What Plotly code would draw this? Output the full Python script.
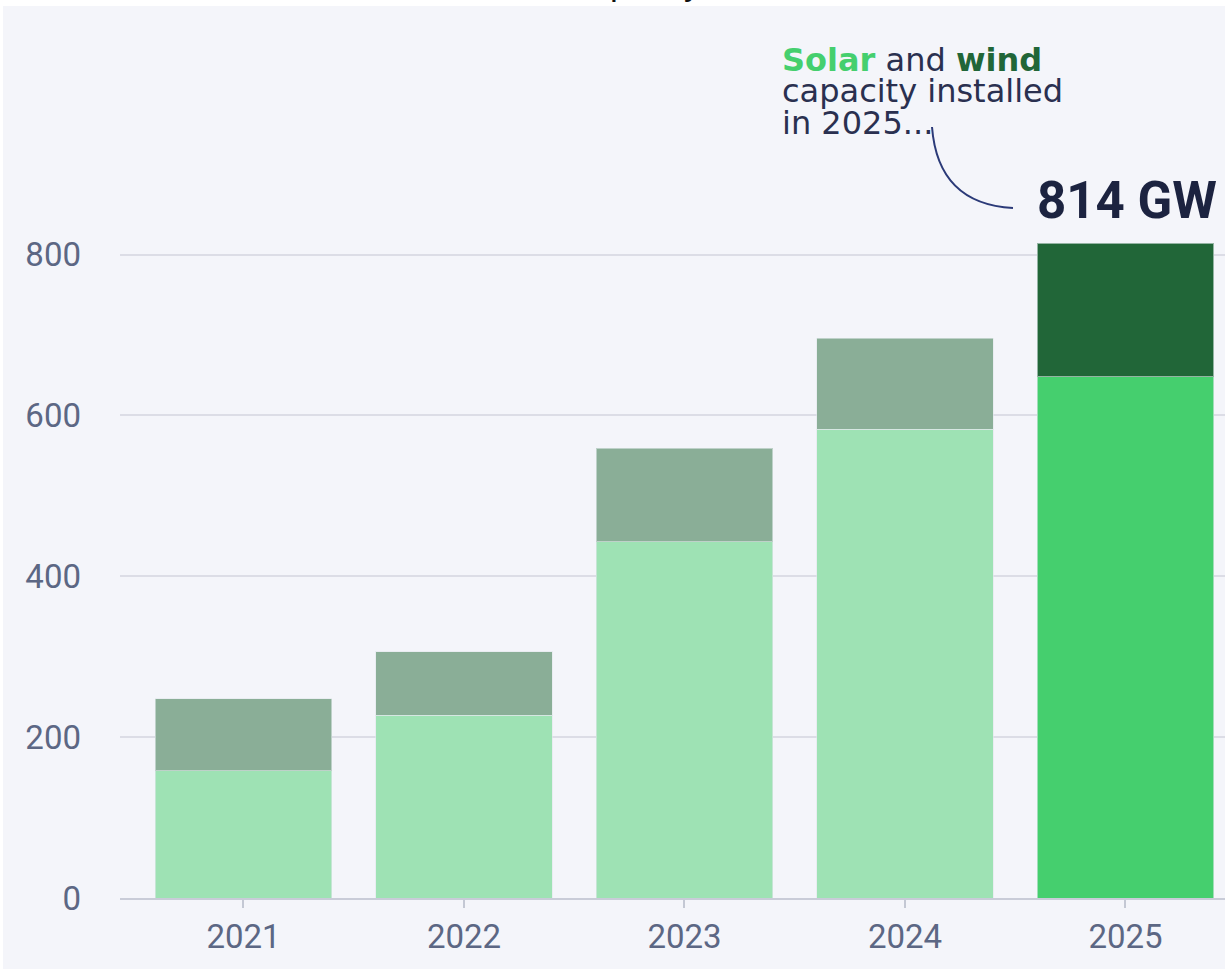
import plotly.graph_objects as go

# ---- data ----
years = ["2021", "2022", "2023", "2024", "2025"]
solar_gw = [158, 227, 443, 583, 648]
wind_gw = [90, 79, 116, 113, 166]
total_2025 = 814
y_ticks = [0, 200, 400, 600, 800]

solar_colors = ["#9ee2b4", "#9ee2b4", "#9ee2b4", "#9ee2b4", "#45cf6e"]
wind_colors = ["#8aae97", "#8aae97", "#8aae97", "#8aae97", "#216638"]

W, H = 1225, 969
ML, MR, MT, MB = 120, 0, 0, 71
PX_PER_CAT = 220.5
X0 = -0.56
X1 = X0 + (W - ML - MR) / PX_PER_CAT
Y1 = (H - MB - MT) / 0.80425
PANEL = "#f4f5fa"
TXT_FONT = "DejaVu Sans"
TICK_FONT = "Roboto"

xs = list(range(len(years)))

fig = go.Figure()
fig.add_trace(go.Bar(x=xs, y=solar_gw, name="Solar",
                     marker=dict(color=solar_colors, line=dict(color="rgba(225,232,235,0.6)", width=1))))
fig.add_trace(go.Bar(x=xs, y=wind_gw, name="Wind",
                     marker=dict(color=wind_colors, line=dict(color="rgba(225,232,235,0.6)", width=1))))

pw, ph = W - ML - MR, H - MB - MT


def px2x(px):
    return (px - ML) / pw


def py2y(py):
    return (H - MB - py) / ph


# annotation text block (paper coords)
tx = px2x(780)
body_font = dict(family=TXT_FONT, size=32, color="#2a3050")
fig.add_annotation(xref="paper", yref="paper", x=tx, y=py2y(60), xanchor="left", yanchor="middle",
                   text="<b><span style='color:#45cf6e'>Solar</span></b> and <b><span style='color:#216638'>wind</span></b>",
                   showarrow=False, font=body_font)
fig.add_annotation(xref="paper", yref="paper", x=tx, y=py2y(91), xanchor="left", yanchor="middle",
                   text="capacity installed", showarrow=False, font=body_font)
fig.add_annotation(xref="paper", yref="paper", x=tx, y=py2y(123), xanchor="left", yanchor="middle",
                   text="in 2025...", showarrow=False, font=body_font)
fig.add_annotation(xref="paper", yref="paper", x=px2x(1035), y=py2y(200), xanchor="left", yanchor="middle",
                   text=f"<b>{total_2025} GW</b>", showarrow=False,
                   font=dict(family=TICK_FONT, size=51, color="#1c2340"))

# cut-off title descenders at the very top
fig.add_annotation(xref="paper", yref="paper", x=px2x(637), y=py2y(-17), xanchor="center", yanchor="middle",
                   text="capacity", showarrow=False,
                   font=dict(family="Liberation Sans", size=35, color="#111111"))

# connector curve
sx, sy = px2x(932), py2y(127)
cx, cy = px2x(938), py2y(204)
ex, ey = px2x(1013), py2y(208)
fig.add_shape(type="path", xref="paper", yref="paper",
              path=f"M {sx},{sy} Q {cx},{cy} {ex},{ey}",
              line=dict(color="#2b3a78", width=2))

# white edges outside panel
fig.add_shape(type="rect", xref="paper", yref="paper", x0=px2x(-2), x1=px2x(W + 2), y0=py2y(6), y1=py2y(-2),
              fillcolor="white", line_width=0, layer="above")
fig.add_shape(type="rect", xref="paper", yref="paper", x0=px2x(-2), x1=px2x(3), y0=py2y(H + 2), y1=py2y(-2),
              fillcolor="white", line_width=0, layer="above")

fig.update_layout(
    width=W, height=H,
    margin=dict(l=ML, r=MR, t=MT, b=MB, pad=0),
    barmode="stack", bargap=0.2,
    paper_bgcolor=PANEL, plot_bgcolor=PANEL,
    showlegend=False,
    font=dict(family=TICK_FONT, color="#5c6784"),
    xaxis=dict(range=[X0, X1], tickvals=xs, ticktext=years, showgrid=False, zeroline=False,
               showline=True, linecolor="#c9ccd8", linewidth=2,
               ticks="outside", ticklen=8, tickwidth=2, tickcolor="#c4c8d4",
               tickfont=dict(size=33, color="#5c6784"), ticklabelstandoff=0),
    yaxis=dict(range=[0, Y1], tickvals=y_ticks, showgrid=True, gridcolor="#dcdde6", gridwidth=2,
               zeroline=False, showline=False, ticks="",
               tickfont=dict(size=33, color="#5c6784"), ticklabelstandoff=38),
)

fig.write_html("out.html", config={"displayModeBar": False},
               post_script="document.body.style.margin='0';document.body.style.padding='0';")
